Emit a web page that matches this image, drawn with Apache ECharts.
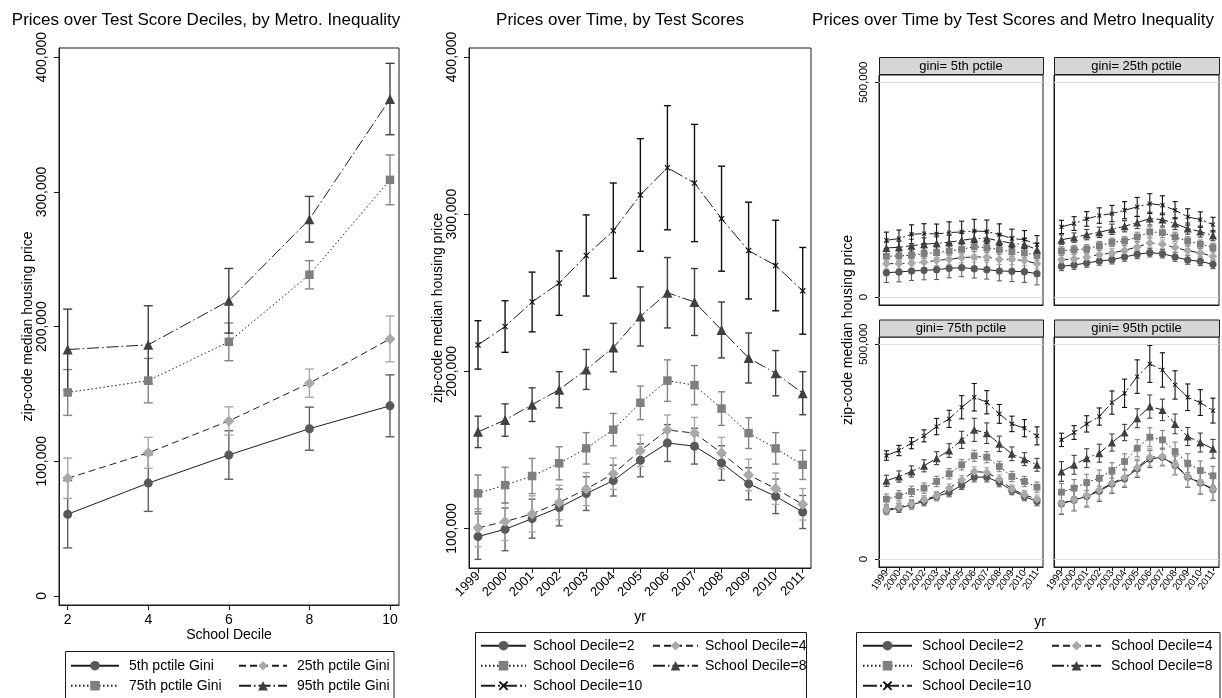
<!DOCTYPE html>
<html><head><meta charset="utf-8">
<script src="https://cdn.jsdelivr.net/npm/echarts@6/dist/echarts.min.js"></script>
<style>html,body{margin:0;padding:0;background:#fff}#c{width:1222px;height:698px}</style>
</head><body><div id="c"></div><script>
// ---------------- DATA ----------------
const deciles = [2, 4, 6, 8, 10];
const giniNames = ['5th pctile Gini', '25th pctile Gini', '75th pctile Gini', '95th pctile Gini'];
const gini5Price  = [60700, 83800, 104700, 124200, 141200];
const gini5Err    = [25000, 21000, 18000, 16000, 23000];
const gini25Price = [87400, 106300, 130000, 158000, 190900];
const gini25Err   = [15000, 11500, 10500, 10500, 17000];
const gini75Price = [151100, 159900, 188700, 238500, 309000];
const gini75Err   = [17000, 16500, 14000, 10500, 18500];
const gini95Price = [183000, 186500, 219200, 279700, 369000];
const gini95Err   = [30000, 29000, 24000, 17000, 26500];

const years = [1999, 2000, 2001, 2002, 2003, 2004, 2005, 2006, 2007, 2008, 2009, 2010, 2011];
const decileNames = ['School Decile=2', 'School Decile=4', 'School Decile=6', 'School Decile=8', 'School Decile=10'];
const dec2Price  = [94900, 99500, 106300, 113400, 122200, 130500, 143400, 154400, 152400, 141700, 128500, 120500, 110500];
const dec2Err    = [14500, 13600, 12400, 11700, 10700, 9800, 10500, 11700, 11400, 11000, 10200, 11000, 10500];
const dec4Price  = [100500, 104400, 109300, 116600, 125100, 134900, 149500, 162700, 160700, 148000, 134100, 125400, 115400];
const dec4Err    = [12000, 12000, 11500, 11000, 10500, 10000, 10000, 9500, 10000, 10000, 10000, 10000, 10000];
const dec6Price  = [122400, 127600, 133400, 141500, 151000, 162900, 180000, 194100, 191200, 176300, 160700, 151000, 140500];
const dec6Err    = [11700, 11400, 11200, 10500, 10000, 10300, 10700, 13200, 12500, 10700, 9800, 10000, 9300];
const dec8Price  = [161500, 169000, 178800, 188300, 201200, 215100, 234900, 250000, 244100, 226300, 208500, 198800, 186100];
const dec8Err    = [10000, 10300, 10700, 11500, 12700, 15400, 18800, 22400, 21300, 17800, 15900, 14400, 13700];
const dec10Price = [216800, 228500, 244100, 256100, 273700, 289500, 312200, 329500, 319800, 297100, 276800, 267300, 251200];
const dec10Err   = [15400, 16400, 19000, 20500, 25800, 30300, 35800, 39500, 37300, 33400, 30800, 28800, 27600];

const giniPanelTitles = ['gini= 5th pctile', 'gini= 25th pctile', 'gini= 75th pctile', 'gini= 95th pctile'];
// gini = 5th pctile
const g5d2   = [56800, 58300, 60700, 62200, 63800, 66900, 68400, 66100, 63800, 60700, 59900, 59100, 54400];
const g5d2e  = [23000, 23000, 22000, 22000, 23000, 22000, 21000, 22000, 22000, 23000, 24000, 25000, 26000];
const g5d4   = [77800, 77800, 78500, 80900, 85500, 87900, 91800, 93300, 93300, 87900, 87900, 84800, 77800];
const g5d4e  = [12000, 12000, 12000, 12000, 12000, 12000, 12000, 12000, 12000, 12000, 12000, 12000, 12000];
const g5d6   = [94900, 95600, 97200, 101100, 103400, 107300, 111200, 117400, 115100, 110400, 105000, 102600, 97200];
const g5d6e  = [11000, 11000, 11000, 11000, 11000, 11000, 11000, 11000, 11000, 11000, 11000, 11000, 11000];
const g5d8   = [114300, 115900, 119700, 122900, 125200, 127500, 132200, 136100, 136900, 130600, 125200, 122100, 110400];
const g5d8e  = [14000, 14000, 15000, 15000, 15000, 16000, 16000, 17000, 17000, 16000, 15000, 15000, 15000];
const g5d10  = [132200, 136100, 146200, 147800, 147000, 150100, 151600, 154000, 152400, 145400, 136100, 133700, 122100];
const g5d10e = [19000, 20000, 22000, 23000, 23000, 25000, 25000, 27000, 27000, 25000, 22000, 21000, 21000];
// gini = 25th pctile
const g25d2   = [71500, 74600, 79300, 84000, 87100, 93300, 99500, 103400, 101100, 93300, 86300, 83200, 76200];
const g25d2e  = [10000, 10000, 10000, 10000, 10000, 10000, 10000, 10000, 10000, 10000, 10000, 10000, 10000];
const g25d4   = [87100, 88600, 93300, 98800, 102600, 108900, 116600, 126000, 122900, 115100, 108100, 102600, 94900];
const g25d4e  = [10000, 10000, 10000, 10000, 10000, 10000, 10000, 10000, 10000, 10000, 10000, 10000, 10000];
const g25d6   = [107300, 110400, 112000, 119700, 127500, 130600, 140000, 151600, 150100, 140000, 130600, 122900, 115100];
const g25d6e  = [10000, 10000, 10000, 10000, 10000, 10000, 11000, 12000, 12000, 11000, 10000, 10000, 10000];
const g25d8   = [133700, 138400, 145400, 150800, 157800, 164800, 173400, 182700, 180400, 171100, 159400, 152400, 143100];
const g25d8e  = [11000, 11000, 12000, 12000, 12000, 13000, 14000, 15000, 15000, 14000, 13000, 13000, 12000];
const g25d10  = [163300, 171100, 181900, 189700, 194400, 202200, 209900, 217700, 213800, 202200, 186600, 180400, 168700];
const g25d10e = [15500, 16000, 17000, 18000, 19000, 20000, 22000, 23000, 22000, 20000, 19000, 18000, 17000];
// gini = 75th pctile
const g75d2   = [113200, 118600, 126400, 134100, 145700, 155000, 172100, 190700, 190700, 178300, 159700, 145700, 134100];
const g75d2e  = [10000, 10000, 10000, 10000, 10000, 10000, 10000, 11000, 11000, 10000, 10000, 10000, 10000];
const g75d4   = [114700, 120900, 128700, 138000, 147300, 165100, 184500, 203900, 201600, 186000, 162800, 149600, 139500];
const g75d4e  = [10000, 10000, 10000, 10000, 10000, 10000, 10000, 11000, 11000, 10000, 10000, 10000, 10000];
const g75d6   = [139500, 147300, 157400, 165100, 180600, 198500, 219400, 240300, 237200, 215500, 192200, 180600, 167400];
const g75d6e  = [12000, 12000, 12000, 12000, 12000, 12000, 12000, 13000, 13000, 12000, 12000, 12000, 12000];
const g75d8   = [182200, 192200, 203900, 217100, 234900, 252700, 277500, 300800, 293000, 268200, 245000, 232600, 219400];
const g75d8e  = [13000, 13000, 13000, 14000, 15000, 16000, 20000, 27000, 24000, 18000, 16000, 15000, 15000];
const g75d10  = [241100, 252700, 269800, 286800, 308500, 326400, 353500, 376700, 365100, 338000, 314700, 304700, 286800];
const g75d10e = [11000, 12000, 13000, 14000, 19000, 20000, 27000, 32000, 27000, 22000, 18000, 20000, 21000];
// gini = 95th pctile
const g95d2   = [129000, 137000, 146000, 158000, 175000, 187000, 210000, 233000, 237000, 218000, 191000, 177000, 162000];
const g95d2e  = [25000, 25000, 25000, 24000, 22000, 20000, 20000, 20000, 20000, 22000, 24000, 26000, 26000];
const g95d4   = [130200, 138000, 148000, 160500, 176700, 190000, 213000, 237000, 238800, 219400, 192200, 178300, 162800];
const g95d4e  = [24000, 24000, 24000, 23000, 21000, 20000, 20000, 20000, 20000, 22000, 24000, 25000, 25000];
const g95d6   = [155800, 165100, 178300, 188400, 206200, 227100, 258100, 283700, 277500, 250400, 223300, 206200, 193800];
const g95d6e  = [20000, 20000, 19000, 19000, 18000, 18000, 20000, 22000, 22000, 22000, 22000, 22000, 22000];
const g95d8   = [203900, 219400, 234900, 246500, 271300, 294600, 327900, 355000, 347300, 314700, 285300, 271300, 256600];
const g95d8e  = [23000, 22000, 22000, 21000, 20000, 19000, 22000, 27000, 25000, 23000, 21000, 22000, 22000];
const g95d10  = [277500, 294600, 314700, 331800, 364300, 386000, 424800, 454300, 440300, 405400, 376700, 364300, 345700];
const g95d10e = [15500, 16000, 19000, 20000, 27000, 33000, 39000, 43000, 40000, 33000, 31000, 30000, 29000];

const p1YTicks = [0, 100000, 200000, 300000, 400000];
const p2YTicks = [100000, 200000, 300000, 400000];
const p3YTicks = [0, 500000];

const titles = ['Prices over Test Score Deciles, by Metro. Inequality', 'Prices over Time, by Test Scores', 'Prices over Time by Test Scores and Metro Inequality'];
const yTitle = 'zip-code median housing price';
const p1XTitle = 'School Decile';
const timeXTitle = 'yr';

// ---------------- STYLE ----------------
const FONT = '"Liberation Sans", Arial, Helvetica, sans-serif';
const INK = '#1a1a1a';
const LINE_COLOR = '#1e1e1e';
const XSYM = 'path://M0,1.4L1.4,0L5,3.6L8.6,0L10,1.4L6.4,5L10,8.6L8.6,10L5,6.4L1.4,10L0,8.6L3.6,5Z';
const STY = [
  { symbol: 'circle',   size: 9,   color: '#595959', err: '#5f5f5f', dash: 'solid' },
  { symbol: 'diamond',  size: 11,  color: '#a9a9a9', err: '#a9a9a9', dash: [7, 4] },
  { symbol: 'rect',     size: 8.5, color: '#7f7f7f', err: '#858585', dash: [1.5, 2.5] },
  { symbol: 'triangle', size: 10,  color: '#404040', err: '#404040', dash: [12, 3, 1.5, 3] },
  { symbol: XSYM,       size: 6,   color: '#111111', err: '#111111', dash: [14, 3, 2, 3] }
];

const commas = v => Math.round(v).toLocaleString('en-US');

function errRender(capHalf, color, lw) {
  return function (params, api) {
    const x = api.value(0), lo = api.value(1), hi = api.value(2);
    const a = api.coord([x, lo]), b = api.coord([x, hi]);
    const st = { stroke: color, lineWidth: lw };
    return { type: 'group', children: [
      { type: 'line', shape: { x1: a[0], y1: a[1], x2: b[0], y2: b[1] }, style: st },
      { type: 'line', shape: { x1: a[0] - capHalf, y1: a[1], x2: a[0] + capHalf, y2: a[1] }, style: st },
      { type: 'line', shape: { x1: b[0] - capHalf, y1: b[1], x2: b[0] + capHalf, y2: b[1] }, style: st }
    ]};
  };
}

const series = [];
function addSeries(gi, name, xs, vals, errs, k, scale) {
  const s = STY[k];
  series.push({
    type: 'custom', name: name + ' ci', xAxisIndex: gi, yAxisIndex: gi, z: 2,
    renderItem: errRender(scale.cap, s.err, scale.elw),
    encode: { x: 0, y: [1, 2] },
    data: xs.map((x, i) => [x, vals[i] - errs[i], vals[i] + errs[i]]),
    silent: true
  });
  series.push({
    type: 'line', name: name, xAxisIndex: gi, yAxisIndex: gi, z: 3,
    data: xs.map((x, i) => [x, vals[i]]),
    symbol: s.symbol, symbolSize: s.size * scale.sym, showSymbol: true,
    itemStyle: { color: s.color, opacity: 1 },
    lineStyle: { color: LINE_COLOR, width: 1, type: s.dash },
    silent: true
  });
}

const big = { cap: 4.5, elw: 1.4, sym: 1 };
const mid = { cap: 3.5, elw: 1.4, sym: 1 };
const small = { cap: 2.6, elw: 1.1, sym: 0.8 };

[[gini5Price, gini5Err], [gini25Price, gini25Err], [gini75Price, gini75Err], [gini95Price, gini95Err]]
  .forEach((p, k) => addSeries(0, giniNames[k], deciles, p[0], p[1], k, big));

[[dec2Price, dec2Err], [dec4Price, dec4Err], [dec6Price, dec6Err], [dec8Price, dec8Err], [dec10Price, dec10Err]]
  .forEach((p, k) => addSeries(1, decileNames[k], years, p[0], p[1], k, mid));

const p3 = [
  [[g5d2, g5d2e], [g5d4, g5d4e], [g5d6, g5d6e], [g5d8, g5d8e], [g5d10, g5d10e]],
  [[g25d2, g25d2e], [g25d4, g25d4e], [g25d6, g25d6e], [g25d8, g25d8e], [g25d10, g25d10e]],
  [[g75d2, g75d2e], [g75d4, g75d4e], [g75d6, g75d6e], [g75d8, g75d8e], [g75d10, g75d10e]],
  [[g95d2, g95d2e], [g95d4, g95d4e], [g95d6, g95d6e], [g95d8, g95d8e], [g95d10, g95d10e]]
];
p3.forEach((panel, pi) => {
  series.push({
    type: 'line', name: 'ref' + pi, xAxisIndex: 2 + pi, yAxisIndex: 2 + pi, data: [], z: 1, silent: true,
    markLine: { silent: true, symbol: 'none', label: { show: false }, animation: false,
      lineStyle: { color: '#dcdcdc', width: 1, type: 'solid' },
      data: p3YTicks.map(v => ({ yAxis: v })) }
  });
  panel.forEach((p, k) => addSeries(2 + pi, decileNames[k], years, p[0], p[1], k, small));
});

// ---------------- LAYOUT ----------------
const grids = [
  { left: 59, top: 48, width: 340, height: 557 },
  { left: 469, top: 48, width: 342, height: 520 },
  { left: 879, top: 75, width: 164, height: 230 },
  { left: 1054, top: 75, width: 165, height: 230 },
  { left: 879, top: 337, width: 164, height: 230 },
  { left: 1054, top: 337, width: 165, height: 230 }
].map(g => Object.assign({ show: true, borderColor: INK, borderWidth: 1, backgroundColor: '#fff',
  containLabel: false, outerBoundsMode: 'none' }, g));

function xAx(gi, min, max, ticks, o) {
  return {
    gridIndex: gi, type: 'value', min: min, max: max,
    axisLine: { show: true, onZero: false, lineStyle: { color: INK, width: 1 } },
    axisTick: { show: o.show, length: o.tick, customValues: ticks, lineStyle: { color: INK } },
    axisLabel: { show: o.show, customValues: ticks, rotate: o.rot, margin: o.margin,
      fontSize: o.fs, fontFamily: FONT, color: '#000', formatter: v => String(v) },
    splitLine: { show: false }
  };
}
function yAx(gi, min, max, ticks, o) {
  return {
    gridIndex: gi, type: 'value', min: min, max: max,
    axisLine: { show: true, onZero: false, lineStyle: { color: INK, width: 1 } },
    axisTick: { show: o.show, length: o.tick, customValues: ticks, lineStyle: { color: INK } },
    axisLabel: { show: o.show, customValues: ticks, rotate: 90, margin: o.margin,
      fontSize: o.fs, fontFamily: FONT, color: '#000', formatter: commas },
    splitLine: { show: false }
  };
}

const xAxis = [
  xAx(0, 1.784, 10.224, deciles, { show: true, tick: 5, rot: 0, margin: 8, fs: 14 }),
  xAx(1, 1998.667, 2011.306, years, { show: true, tick: 5, rot: 45, margin: 6, fs: 13 }),
  xAx(2, 1998.41, 2011.48, years, { show: false, tick: 4, rot: 55, margin: 4, fs: 10 }),
  xAx(3, 1998.41, 2011.48, years, { show: false, tick: 4, rot: 55, margin: 4, fs: 10 }),
  xAx(4, 1998.41, 2011.48, years, { show: true, tick: 4, rot: 55, margin: 4, fs: 10 }),
  xAx(5, 1998.41, 2011.48, years, { show: true, tick: 4, rot: 55, margin: 4, fs: 10 })
];
const yAxis = [
  yAx(0, -6700, 406900, p1YTicks, { show: true, tick: 5, margin: 10, fs: 14 }),
  yAx(1, 74900, 405670, p2YTicks, { show: true, tick: 5, margin: 10, fs: 14 }),
  yAx(2, -18500, 517000, p3YTicks, { show: true, tick: 4, margin: 9, fs: 11.5 }),
  yAx(3, -18500, 517000, p3YTicks, { show: false, tick: 4, margin: 9, fs: 11.5 }),
  yAx(4, -18500, 517000, p3YTicks, { show: true, tick: 4, margin: 9, fs: 11.5 }),
  yAx(5, -18500, 517000, p3YTicks, { show: false, tick: 4, margin: 9, fs: 11.5 })
];

const legends = [];
function addLegend(names, cols, rows, iconW, textPad) {
  names.forEach((n, i) => {
    legends.push({
      data: [n], left: cols[i % 2], top: rows[Math.floor(i / 2)] - 8,
      orient: 'horizontal', padding: 0, itemGap: 0, itemWidth: iconW, itemHeight: 12,
      selectedMode: false,
      textStyle: { fontSize: 14, fontFamily: FONT, color: '#000', padding: [0, 0, 0, textPad] }
    });
  });
}
addLegend(giniNames, [70, 238], [666.7, 686.7], 48, 5);
addLegend(decileNames, [480, 652], [646.7, 666.7, 686.7], 45, 2);
addLegend(decileNames, [862, 1051], [646.7, 666.7, 686.7], 49, 5);

function txt(text, x, y, size, rot) {
  return { type: 'text', x: x, y: y, rotation: rot || 0, z: 10, silent: true,
    style: { text: text, font: size + 'px ' + FONT, fill: '#000',
      textAlign: 'center', textVerticalAlign: 'middle', align: 'center', verticalAlign: 'middle' } };
}
function box(x, y, w, h) {
  return { type: 'rect', shape: { x: x, y: y, width: w, height: h }, z: 0, silent: true,
    style: { fill: 'rgba(0,0,0,0)', stroke: INK, lineWidth: 1 } };
}

const graphics = [
  txt(titles[0], 206, 20, 17), txt(titles[1], 620, 20, 17), txt(titles[2], 1013, 20, 17),
  txt(yTitle, 28, 326.5, 14, Math.PI / 2), txt(yTitle, 438, 308, 14, Math.PI / 2), txt(yTitle, 848, 330, 14, Math.PI / 2),
  txt(p1XTitle, 229, 635, 14), txt(timeXTitle, 640, 616.7, 14), txt(timeXTitle, 1040, 621.7, 14),
  box(65.5, 651.5, 328.5, 60), box(475.5, 632.5, 331, 80), box(856.5, 632.5, 363.5, 80)
];
const headerPos = [[879, 57.5, 164], [1054, 57.5, 165], [879, 320, 164], [1054, 320, 165]];
giniPanelTitles.forEach((t, i) => {
  const h = headerPos[i];
  graphics.push({ type: 'rect', shape: { x: h[0] + 0.5, y: h[1], width: h[2], height: 17 }, z: 5, silent: true,
    style: { fill: '#d6d6d6', stroke: INK, lineWidth: 1 } });
  graphics.push(txt(t, h[0] + h[2] / 2, h[1] + 8.5, 13));
});

const chart = echarts.init(document.getElementById('c'), null, { renderer: 'canvas' });
chart.setOption({
  animation: false,
  backgroundColor: '#fff',
  textStyle: { fontFamily: FONT },
  grid: grids, xAxis: xAxis, yAxis: yAxis,
  legend: legends,
  series: series,
  graphic: graphics
});
</script></body></html>
